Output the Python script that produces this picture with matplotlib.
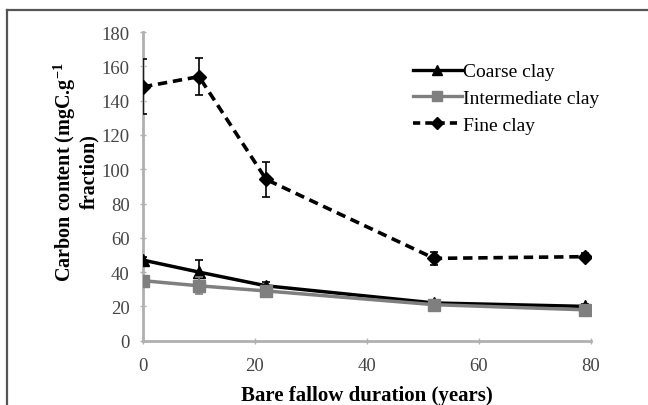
import matplotlib
matplotlib.use("Agg")
import matplotlib.pyplot as plt
from matplotlib.lines import Line2D

years = [0, 10, 22, 52, 79]
coarse = [47, 40, 32, 22, 20]
coarse_err = [2, 7, 2, 2, 1.5]
inter = [35, 32, 29, 21, 18]
inter_err = [2, 5, 2, 2, 1.5]
fine = [148, 154, 94, 48, 49]
fine_err = [16, 11, 10, 4, 2]
labels = ['Coarse clay', 'Intermediate clay', 'Fine clay']
xticks = [0, 20, 40, 60, 80]
yticks = [0, 20, 40, 60, 80, 100, 120, 140, 160, 180]

plt.rcParams['font.family'] = ['Liberation Serif', 'DejaVu Serif']
plt.rcParams['mathtext.fontset'] = 'custom'
plt.rcParams['mathtext.rm'] = 'Liberation Serif'
plt.rcParams['mathtext.bf'] = 'Liberation Serif:bold'

fig = plt.figure(figsize=(6.48, 4.06), dpi=100)
ax = fig.add_axes([143/648, 1-341.7/406, (591-143)/648, (341.7-33)/406])

# outer frame lines (top and left)
fig.add_artist(Line2D([7/648, 7/648], [0, 1-11/406], color='#555555', lw=1.6, transform=fig.transFigure))
fig.add_artist(Line2D([7/648, 1], [1-11/406, 1-11/406], color='#555555', lw=1.6, transform=fig.transFigure))

ax.errorbar(years, coarse, yerr=coarse_err, color='black', lw=2.5, marker='^', ms=9,
            capsize=3, elinewidth=1.2, capthick=1.2, zorder=3)
ax.errorbar(years, inter, yerr=inter_err, color='#7f7f7f', lw=2.5, marker='s', ms=8.5,
            capsize=3, elinewidth=1.2, capthick=1.2, zorder=4)
ax.errorbar(years, fine, yerr=fine_err, color='black', lw=2.6, marker='D', ms=7.5,
            capsize=3, elinewidth=1.2, capthick=1.2, zorder=5, dashes=(2.6, 1.6))

handles = [
    Line2D([], [], color='black', lw=2.4, marker='^', ms=7),
    Line2D([], [], color='#7f7f7f', lw=2.4, marker='s', ms=7),
    Line2D([], [], color='black', lw=2.6, marker='D', ms=6, dashes=(2.0, 1.4)),
]

ax.set_xlim(0, 80)
ax.set_ylim(0, 180)
ax.set_xticks(xticks)
ax.set_yticks(yticks)
for s in ['top', 'right']:
    ax.spines[s].set_visible(False)
for s in ['left', 'bottom']:
    ax.spines[s].set_color('#b0b0b0')
    ax.spines[s].set_linewidth(2)
ax.tick_params(direction='inout', length=5, width=1, color='#b0b0b0', labelsize=13.5,
               labelcolor='#454545')
ax.tick_params(axis='x', pad=9)
ax.tick_params(axis='y', pad=7)
for sp in ax.spines.values():
    sp.set_clip_on(False)

ax.set_xlabel('Bare fallow duration (years)', fontsize=15, fontweight='bold', labelpad=8)
ax.set_ylabel('Carbon content (mgC.g$^{\\mathbf{-1}}$\nfraction)', fontsize=14.5, fontweight='bold',
              linespacing=1.05)
ax.yaxis.set_label_coords((99 - 143) / 448, (341.7 - 172) / 308.7)

ax.legend(handles, labels, loc='upper left', bbox_to_anchor=(0.603, 0.9), frameon=False,
          fontsize=14, handlelength=2.5, handletextpad=0.05, labelspacing=0.47, borderaxespad=0,
          borderpad=0)

fig.savefig('out.png', dpi=100)
